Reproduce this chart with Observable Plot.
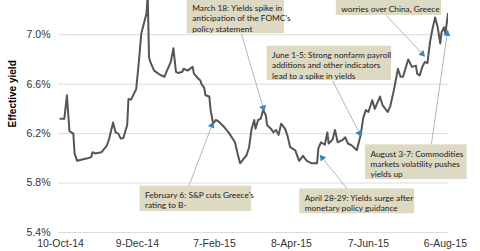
<!DOCTYPE html>
<html><head><meta charset="utf-8">
<script src="https://cdn.jsdelivr.net/npm/d3@7"></script>
<script src="https://cdn.jsdelivr.net/npm/@observablehq/plot@0.6"></script>
<style>
html,body{margin:0;padding:0;background:#fff;}
#chart svg{display:block;overflow:hidden;}
</style></head><body><div id="chart"></div>
<script>
// ---- data ----
const dates = [
"2014-10-10","2014-10-13","2014-10-15","2014-10-17","2014-10-20","2014-10-21","2014-10-23","2014-10-27","2014-10-31",
"2014-11-03","2014-11-04","2014-11-06","2014-11-11","2014-11-15","2014-11-17","2014-11-20","2014-11-22","2014-11-24","2014-11-26","2014-11-28",
"2014-12-01","2014-12-02","2014-12-04","2014-12-08","2014-12-10","2014-12-12","2014-12-14","2014-12-16","2014-12-17","2014-12-18","2014-12-19","2014-12-22","2014-12-26","2014-12-30",
"2015-01-01","2015-01-04","2015-01-06","2015-01-08","2015-01-10","2015-01-13","2015-01-14","2015-01-17","2015-01-21","2015-01-22","2015-01-25","2015-01-27","2015-01-28","2015-01-30","2015-01-31",
"2015-02-03","2015-02-04","2015-02-06","2015-02-08","2015-02-10","2015-02-14","2015-02-18","2015-02-23","2015-02-25","2015-02-27",
"2015-03-02","2015-03-04","2015-03-06","2015-03-08","2015-03-10","2015-03-11","2015-03-13","2015-03-15","2015-03-17","2015-03-19","2015-03-20","2015-03-23","2015-03-25","2015-03-27","2015-03-29","2015-03-31",
"2015-04-03","2015-04-05","2015-04-07","2015-04-11","2015-04-14","2015-04-17","2015-04-20","2015-04-24","2015-04-28","2015-04-29",
"2015-05-01","2015-05-04","2015-05-06","2015-05-07","2015-05-10","2015-05-12","2015-05-14","2015-05-18","2015-05-20","2015-05-22","2015-05-25","2015-05-29","2015-05-31",
"2015-06-01","2015-06-03","2015-06-05","2015-06-07","2015-06-10","2015-06-12","2015-06-16","2015-06-18","2015-06-22","2015-06-24","2015-06-27","2015-06-30",
"2015-07-02","2015-07-04","2015-07-08","2015-07-11","2015-07-14","2015-07-15","2015-07-17","2015-07-19","2015-07-21","2015-07-23","2015-07-25","2015-07-27","2015-07-29","2015-07-31",
"2015-08-02","2015-08-03","2015-08-05","2015-08-06","2015-08-08"
];
const yields = [
6.32,6.32,6.51,6.22,6.20,6.04,5.98,5.99,6.00,
6.01,6.05,6.04,6.05,6.10,6.16,6.29,6.21,6.20,6.16,6.165,
6.27,6.48,6.475,6.56,6.77,7.01,7.09,7.17,7.32,6.82,6.78,6.71,6.68,6.66,
6.71,6.78,6.89,6.70,6.69,6.70,6.725,6.71,6.74,6.685,6.65,6.63,6.60,6.57,6.51,
6.50,6.39,6.28,6.31,6.30,6.26,6.21,6.13,6.04,5.96,
6.00,6.025,6.09,6.24,6.31,6.24,6.31,6.32,6.39,6.35,6.27,6.24,6.21,6.23,6.19,6.28,
6.24,6.18,6.09,6.065,5.98,6.02,5.98,5.96,5.96,6.08,
6.13,6.11,6.21,6.12,6.15,6.23,6.13,6.15,6.17,6.12,6.105,6.065,6.15,
6.19,6.33,6.39,6.375,6.47,6.40,6.50,6.43,6.375,6.42,6.56,6.725,
6.66,6.66,6.80,6.74,6.75,6.685,6.67,6.74,6.78,6.77,6.94,7.05,7.14,7.06,
6.93,7.02,7.06,7.01,7.17
];
const xTickDates = ["2014-10-10","2014-12-09","2015-02-07","2015-04-08","2015-06-07","2015-08-06"];
const yTicks = [5.4, 5.8, 6.2, 6.6, 7.0];
const yLabel = "Effective yield";

// annotations (anchored in data space)
const annTexts = [
  "March 18: Yields spike in\nanticipation of the FOMC's\npolicy statement",
  "June 1-5: Strong nonfarm payroll\nadditions and other indicators\nlead to a spike in yields",
  "worries over China, Greece",
  "February 6: S&P cuts Greece's\nrating to B-",
  "April 28-29: Yields surge after\nmonetary policy guidance",
  "August 3-7: Commodities\nmarkets volatility pushes\nyields up"
];
const annBoxStart = ["2015-01-16T18:00Z","2015-03-20T00:00Z","2015-05-13T00:00Z","2014-12-11T00:00Z","2015-04-14T12:00Z","2015-06-04T17:00Z"];
const annBoxEnd   = ["2015-04-02T14:00Z","2015-06-25T00:00Z","2015-08-03T00:00Z","2015-03-08T00:00Z","2015-07-13T00:00Z","2015-08-23T00:00Z"];
const annBoxTop    = [7.287, 6.907, 7.280, 5.775, 5.753, 6.109];
const annBoxBottom = [7.008, 6.630, 7.156, 5.570, 5.551, 5.829];
const annFromDate  = ["2015-02-28","2015-05-10","2015-06-21","2015-01-18","2015-05-21T12:00Z","2015-07-26"];
const annFromValue = [7.008, 6.630, 7.156, 5.775, 5.753, 6.109];
const annToDate    = ["2015-03-17","2015-05-31","2015-07-19","2015-02-05","2015-05-02","2015-08-07T10:00Z"];
const annToValue   = [6.409, 6.203, 6.846, 6.266, 6.004, 7.008];

// ---- build ----
const W = 480, H = 251;
const mL = 58, mR = 32, mT = 0, mB = 19;
const xDomain = [new Date("2014-10-08T11:00Z"), new Date("2015-08-08T10:00Z")];
const yDomain = [5.4, 7.277];

const series = dates.map((d, i) => ({date: new Date(d), value: yields[i]}));
const anns = annTexts.map((t, i) => ({
  text: t,
  x1: new Date(annBoxStart[i]), x2: new Date(annBoxEnd[i]),
  top: annBoxTop[i], bottom: annBoxBottom[i],
  fx: new Date(annFromDate[i]), fy: annFromValue[i],
  tx: new Date(annToDate[i]), ty: annToValue[i]
}));
// mirror scales only to orient the arrowhead triangles
const xs = d3.scaleUtc().domain(xDomain).range([mL, W - mR]);
const ys = d3.scaleLinear().domain(yDomain).range([H - mB, mT]);
anns.forEach(a => {
  const dx = xs(a.tx) - xs(a.fx), dy = ys(a.ty) - ys(a.fy);
  a.angle = Math.atan2(dx, -dy) * 180 / Math.PI;
});

const fmtDate = d3.utcFormat("%-d-%b-%y");

const chart = Plot.plot({
  width: W, height: H,
  marginLeft: mL, marginRight: mR, marginTop: mT, marginBottom: mB,
  style: {fontFamily: "Liberation Sans, Arial, sans-serif", fontSize: "10.5px", color: "#333", background: "#fff"},
  x: {type: "utc", domain: xDomain, ticks: xTickDates.map(d => new Date(d)), tickFormat: fmtDate, tickSize: 0, tickPadding: 7, label: null},
  y: {domain: yDomain, ticks: yTicks, tickFormat: d => d.toFixed(1) + "%", tickSize: 0, tickPadding: 8, label: null},
  marks: [
    Plot.ruleY(yTicks, {stroke: "#dcdcdc", strokeWidth: 1}),
    Plot.line(series, {x: "date", y: "value", stroke: "#555555", strokeWidth: 2, curve: "linear", clip: true}),
    Plot.link(anns, {x1: "fx", y1: "fy", x2: "tx", y2: "ty", stroke: "#8fa9bd", strokeWidth: 0.8}),
    Plot.dot(anns, {x: "tx", y: "ty", symbol: "triangle", r: 2.6, fill: "#3a87b8", stroke: "none", rotate: "angle"}),
    Plot.rect(anns, {x1: "x1", x2: "x2", y1: "bottom", y2: "top", fill: "#ddd9c3"}),
    Plot.text(anns, {x: "x1", y: "top", text: "text", textAnchor: "start", lineAnchor: "top", dx: 5, dy: 4.5,
      fontFamily: "Lato", fontSize: 8.3, lineHeight: 1.25, fill: "#222"}),
    Plot.text([yLabel], {frameAnchor: "left", dx: -46, dy: 11, rotate: -90, fontWeight: "bold", fontSize: 10, fill: "#000"})
  ]
});
document.getElementById("chart").append(chart);
</script></body></html>
